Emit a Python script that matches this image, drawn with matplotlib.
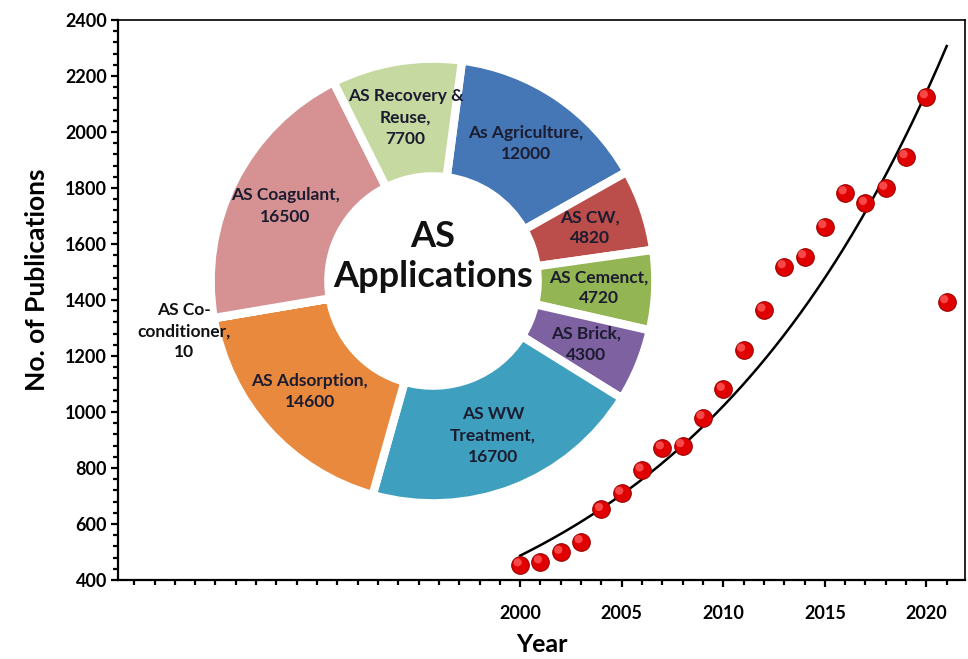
import numpy as np
import matplotlib
matplotlib.use("Agg")
import matplotlib.pyplot as plt
from matplotlib.ticker import FixedLocator, MultipleLocator
import matplotlib.transforms as mtransforms

plt.rcParams['font.family'] = ['Lato', 'DejaVu Sans']

# ---------------- data ----------------
years = [2000, 2001, 2002, 2003, 2004, 2005, 2006, 2007, 2008, 2009, 2010,
         2011, 2012, 2013, 2014, 2015, 2016, 2017, 2018, 2019, 2020, 2021]
publications = [454, 465, 499, 537, 652, 710, 793, 872, 880, 980, 1081,
                1221, 1364, 1519, 1555, 1662, 1783, 1745, 1799, 1912, 2126, 1394]

trend_years = [2000, 2021]
trend_values = [487, 2307]

app_labels = ["As Agriculture,\n12000", "AS CW,\n4820", "AS Cemenct,\n4720",
              "AS Brick,\n4300", "AS WW\nTreatment,\n16700", "AS Adsorption,\n14600",
              "AS Co-\nconditioner,\n10", "AS Coagulant,\n16500",
              "AS Recovery &\nReuse,\n7700"]
app_values = [12000, 4820, 4720, 4300, 16700, 14600, 10, 16500, 7700]
app_colors = ["#4577b6", "#bb4d4a", "#93b553", "#7d61a1", "#3e9fbf",
              "#e8893e", "#4f81bd", "#d69292", "#c5d9a0"]

yticks = [400, 600, 800, 1000, 1200, 1400, 1600, 1800, 2000, 2200, 2400]
xticks = [2000, 2005, 2010, 2015, 2020]

# ---------------- figure ----------------
fig = plt.figure(figsize=(9.68, 6.59), dpi=100)
ax = fig.add_axes([118/968, 1-580/659, (965-118)/968, (580-20)/659])

# trend line (exponential)
tx = np.linspace(trend_years[0], trend_years[1], 200)
ty = np.geomspace(trend_values[0], trend_values[1], 200)
ax.plot(tx, ty, color='black', lw=1.8, zorder=2)

# spheres
ax.scatter(years, publications, s=160, color='#e00000', edgecolor='#9c0000',
           linewidth=0.8, zorder=3)
hl = mtransforms.offset_copy(ax.transData, fig=fig, x=-1.8, y=1.8, units='points')
ax.scatter(years, publications, s=35, color='#ff5a5a', edgecolor='none',
           alpha=0.8, zorder=4, transform=hl)

ax.set_xlim(1980.2, 2021.9)
ax.set_ylim(400, 2400)
ax.xaxis.set_major_locator(FixedLocator(xticks))
ax.xaxis.set_minor_locator(FixedLocator([y for y in range(1981, 2022) if y not in xticks]))
ax.yaxis.set_major_locator(FixedLocator(yticks))
ax.yaxis.set_minor_locator(MultipleLocator(40))
ax.tick_params(axis='both', which='major', direction='out', length=5, width=1.6,
               labelsize=13, pad=3)
ax.tick_params(axis='both', which='minor', direction='out', length=3.5, width=1.6)
ax.tick_params(axis='x', which='major', pad=13)
for lab in ax.get_xticklabels() + ax.get_yticklabels():
    lab.set_fontweight('bold')
for sp in ax.spines.values():
    sp.set_linewidth(1.6)
ax.spines['top'].set_linewidth(1.2)
ax.spines['right'].set_linewidth(1.2)

ax.set_ylabel("No. of Publications", fontsize=19, fontweight='bold')
ax.set_xlabel("Year", fontsize=18, fontweight='bold')
ax.yaxis.set_label_coords(-0.082, 0.536)
ax.xaxis.set_label_coords(0.5, -0.094)

# ---------------- donut inset ----------------
cx, cy, R = 433, 281, 218
side = 2.2 * R
axp = fig.add_axes([(cx - side/2)/968, 1 - (cy + side/2)/659, side/968, side/659])
wedges, _ = axp.pie(app_values, colors=app_colors, startangle=82.5,
                    counterclock=False, radius=1.02,
                    wedgeprops=dict(width=0.54, edgecolor='white', linewidth=6))
axp.set_xlim(-1.1, 1.1)
axp.set_ylim(-1.1, 1.1)
axp.set_aspect('equal', adjustable='box')
axp.axis('off')

for w, lab in zip(wedges, app_labels):
    mid = np.deg2rad((w.theta1 + w.theta2) / 2)
    if lab.startswith("AS Co-"):
        r = 1.2
        x, y = r * np.cos(mid) + 0.04, r * np.sin(mid) - 0.03
        axp.text(x, y, lab, ha='center', va='center', fontsize=12.5,
                 fontweight='bold', color='#111111', linespacing=1.4)
    else:
        r = 0.76
        axp.text(r * np.cos(mid), r * np.sin(mid), lab, ha='center', va='center',
                 fontsize=12.5, fontweight='bold', color='#1c1c30', linespacing=1.4)

axp.text(0, 0.112, "AS\nApplications", ha='center', va='center', fontsize=26,
         fontweight='bold', color='#111111', linespacing=1.25)

fig.savefig("out.png", dpi=100)
